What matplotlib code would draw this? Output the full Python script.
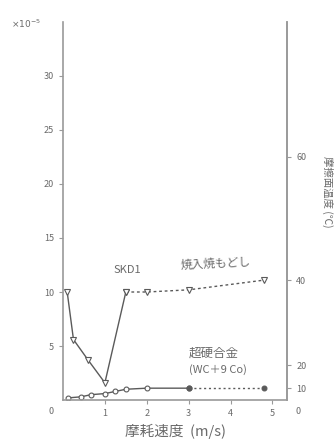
import matplotlib.pyplot as plt
import numpy as np

plt.rcParams['font.family'] = ['Noto Sans CJK JP', 'DejaVu Sans']

# SKD1 (quenched & tempered): wear rate x1e-5
skd_speed_solid = [0.1, 0.25, 0.6, 1.0, 1.5]
skd_wear_solid = [10.0, 5.6, 3.7, 1.6, 10.0]
skd_speed_dash = [1.5, 2.0, 3.0, 4.8]
skd_wear_dash = [10.0, 10.0, 10.2, 11.1]

# cemented carbide (WC+9Co)
wc_speed_solid = [0.12, 0.43, 0.67, 1.0, 1.25, 1.5, 2.0, 3.0]
wc_wear_solid = [0.2, 0.3, 0.5, 0.6, 0.8, 1.0, 1.1, 1.1]
wc_speed_dot = [3.0, 4.8]
wc_wear_dot = [1.1, 1.1]

left_ticks = [5, 10, 15, 20, 25, 30]
x_ticks = [1, 2, 3, 4, 5]
# right-hand scale (not linear against the left one)
right_tick_pos = [1.1, 3.2, 11.1, 22.5]
right_tick_labels = ['10', '20', '40', '60']

line_c = '#5a5a5a'
text_c = '#6a6a6a'
spine_c = '#9a9a9a'

fig = plt.figure(figsize=(3.36, 4.46), dpi=100)
ax = fig.add_axes([0.1875, 0.103, 0.667, 0.848])

ax.plot(skd_speed_solid, skd_wear_solid, color=line_c, lw=1.0,
        marker='v', ms=5, mfc='white', mec=line_c, mew=0.8)
ax.plot(skd_speed_dash, skd_wear_dash, color=line_c, lw=1.0, ls=(0, (2, 2)),
        marker='v', ms=5, mfc='white', mec=line_c, mew=0.8)
ax.plot(wc_speed_solid, wc_wear_solid, color=line_c, lw=1.0,
        marker='o', ms=3.5, mfc='white', mec=line_c, mew=0.8)
ax.plot(wc_speed_dot, wc_wear_dot, color=line_c, lw=1.0, ls=(0, (1.5, 2)),
        marker='o', ms=3.5, mfc=line_c, mec=line_c, mew=0.8)

ax.set_xlim(0, 5.35)
ax.set_ylim(0, 35)
ax.set_xticks(x_ticks)
ax.set_yticks(left_ticks)
ax.tick_params(colors=spine_c, labelcolor=text_c, labelsize=6.5, length=3, width=0.8)
for s in ax.spines.values():
    s.set_color(spine_c)
    s.set_linewidth(1.2)
ax.spines['top'].set_visible(False)

ax2 = ax.twinx()
ax2.set_ylim(ax.get_ylim())
ax2.set_yticks(right_tick_pos)
ax2.set_yticklabels(right_tick_labels)
ax2.tick_params(colors=spine_c, labelcolor=text_c, labelsize=6.5, length=3, width=0.8)
for s in ax2.spines.values():
    s.set_visible(False)
ax2.spines['right'].set_visible(True)
ax2.spines['right'].set_color(spine_c)
ax2.spines['right'].set_linewidth(1.2)

# corner zeros and multiplier
ax.text(-0.055, -0.03, '0', transform=ax.transAxes, fontsize=6.5, color=text_c,
        ha='center', va='center')
ax.text(1.05, -0.03, '0', transform=ax.transAxes, fontsize=6.5, color=text_c,
        ha='center', va='center')
ax.text(-0.23, 0.995, r'$\times10^{-5}$', transform=ax.transAxes, fontsize=6.5,
        color=text_c, ha='left', va='center')

ax.text(1.2, 12.0, 'SKD1', fontsize=8, color=text_c, ha='left', va='center')
ax.text(2.8, 12.6, '焼入焼もどし', fontsize=8.5, color=text_c, ha='left',
        va='center', rotation=3)
ax.text(3.6, 4.35, '超硬合金', fontsize=9, color=text_c, ha='center', va='center')
ax.text(3.7, 2.8, '(WC＋9 Co)', fontsize=8, color=text_c, ha='center', va='center')

ax.set_xlabel('摩耗速度  (m/s)', fontsize=10.5, color=text_c, labelpad=4)
fig.text(0.975, 0.57, '摩擦面温度 (℃)', rotation=270, fontsize=7.5,
         color=text_c, ha='center', va='center')

fig.savefig('out.png', dpi=100)
